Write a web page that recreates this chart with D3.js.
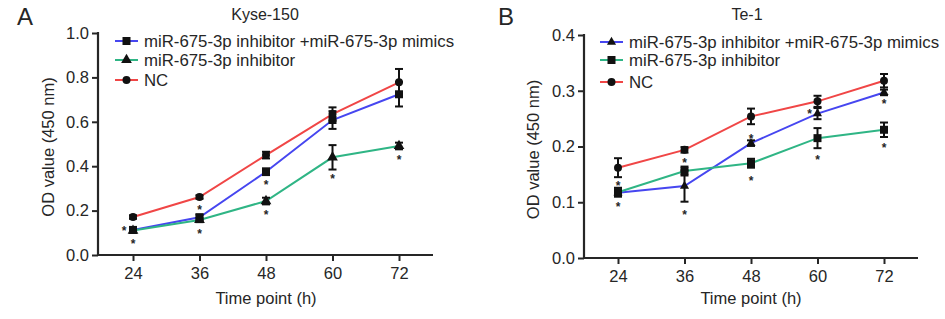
<!DOCTYPE html>
<html><head><meta charset="utf-8">
<script src="https://cdn.jsdelivr.net/npm/d3@7"></script>
<style>
body{margin:0;background:#fff;}
text{font-family:"Liberation Sans",Arial,Helvetica,sans-serif;fill:#262626;}
</style></head>
<body><svg id="c" width="945" height="319"></svg>
<script>
const times = [24, 36, 48, 60, 72];
const seriesNames = ["miR-675-3p inhibitor +miR-675-3p mimics", "miR-675-3p inhibitor", "NC"];
const seriesColors = ["#4646f0", "#2fb585", "#f04646"];

// Panel A: Kyse-150
const aMimics = [0.113, 0.170, 0.375, 0.608, 0.724];
const aMimicsErr = [0.010, 0.012, 0.015, 0.040, 0.055];
const aInhib = [0.110, 0.158, 0.243, 0.440, 0.491];
const aInhibErr = [0.010, 0.010, 0.015, 0.055, 0.015];
const aNC = [0.171, 0.261, 0.450, 0.635, 0.778];
const aNCErr = [0.008, 0.008, 0.015, 0.030, 0.060];
const aYTicks = [0.0, 0.2, 0.4, 0.6, 0.8, 1.0];
const aStars = [[24, 0.12, -9], [24, 0.063, 0], [36, 0.218, 0], [36, 0.109, 0], [48, 0.33, 0], [48, 0.195, 0], [60, 0.356, 0], [72, 0.443, 0]];

// Panel B: Te-1
const bMimics = [0.117, 0.129, 0.206, 0.259, 0.297];
const bMimicsErr = [0.006, 0.028, 0.005, 0.010, 0.005];
const bInhib = [0.118, 0.156, 0.170, 0.215, 0.230];
const bInhibErr = [0.008, 0.008, 0.008, 0.018, 0.013];
const bNC = [0.162, 0.194, 0.254, 0.281, 0.318];
const bNCErr = [0.017, 0.005, 0.014, 0.010, 0.012];
const bYTicks = [0.0, 0.1, 0.2, 0.3, 0.4];
const bStars = [[24, 0.134, 0], [24, 0.097, 0], [36, 0.176, 0], [36, 0.083, 0], [48, 0.219, 0], [48, 0.144, 0], [60, 0.264, -8], [60, 0.182, 0], [72, 0.281, 0], [72, 0.202, 0]];

const svg = d3.select("#c");

function drawPanel(cfg) {
  const g = svg.append("g");
  const x = d3.scaleLinear().domain([24, 72]).range(cfg.xr);
  const y = d3.scaleLinear().domain([0, cfg.ymax]).range([cfg.y0, cfg.y1]);

  // panel letter and title
  g.append("text").attr("x", cfg.letterX).attr("y", 25).attr("font-size", 24).text(cfg.letter);
  g.append("text").attr("x", cfg.titleX).attr("y", 20).attr("font-size", 16).attr("text-anchor", "middle").text(cfg.title);

  // y axis
  const ya = g.append("g").attr("transform", `translate(${cfg.left},0)`)
    .call(d3.axisLeft(y).tickValues(cfg.yTicks).tickFormat(d3.format(".1f")).tickSize(6).tickSizeOuter(0));
  ya.select(".domain").remove();
  ya.selectAll(".tick line").attr("stroke", "#262626").attr("stroke-width", 2);
  ya.selectAll(".tick text").attr("font-size", 16.5).attr("x", -9).attr("fill", "#262626").attr("font-family", null);
  g.append("line").attr("x1", cfg.left).attr("x2", cfg.left).attr("y1", cfg.y1 - 1).attr("y2", cfg.y0 + 1)
    .attr("stroke", "#262626").attr("stroke-width", 2.2);

  // x axis
  const xa = g.append("g").attr("transform", `translate(0,${cfg.y0})`)
    .call(d3.axisBottom(x).tickValues(times).tickSize(6).tickSizeOuter(0));
  xa.select(".domain").remove();
  xa.selectAll(".tick line").attr("stroke", "#262626").attr("stroke-width", 2);
  xa.selectAll(".tick text").attr("font-size", 16.5).attr("y", 12).attr("fill", "#262626").attr("font-family", null);
  g.append("line").attr("x1", cfg.left - 1).attr("x2", cfg.right).attr("y1", cfg.y0).attr("y2", cfg.y0)
    .attr("stroke", "#262626").attr("stroke-width", 2.2);

  // axis titles
  g.append("text").attr("x", (cfg.xr[0] + cfg.xr[1]) / 2).attr("y", 304).attr("font-size", 16.5)
    .attr("text-anchor", "middle").text("Time point (h)");
  g.append("text").attr("transform", `translate(${cfg.ylabX},${(cfg.y0 + cfg.y1) / 2 + 3}) rotate(-90)`)
    .attr("font-size", 16.5).attr("text-anchor", "middle").text("OD value (450 nm)");

  const line = d3.line().x((d, i) => x(times[i])).y(d => y(d));
  const order = [0, 1, 2];
  // lines
  order.forEach(s => {
    g.append("path").datum(cfg.vals[s]).attr("d", line).attr("fill", "none")
      .attr("stroke", seriesColors[s]).attr("stroke-width", 2);
  });
  // error bars + markers
  order.forEach(s => {
    const eg = g.append("g");
    cfg.vals[s].forEach((v, i) => {
      const e = cfg.errs[s][i], cx = x(times[i]);
      eg.append("line").attr("x1", cx).attr("x2", cx).attr("y1", y(v + e)).attr("y2", y(v - e))
        .attr("stroke", "#111").attr("stroke-width", 2);
      [v + e, v - e].forEach(w => eg.append("line").attr("x1", cx - 4).attr("x2", cx + 4)
        .attr("y1", y(w)).attr("y2", y(w)).attr("stroke", "#111").attr("stroke-width", 2));
      eg.append("path").attr("d", d3.symbol().type(cfg.syms[s]).size(cfg.symSize[s])())
        .attr("transform", `translate(${cx},${y(v)})`).attr("fill", "#111");
    });
  });
  // asterisks
  cfg.stars.forEach(st => {
    g.append("text").attr("x", x(st[0]) + st[2]).attr("y", y(st[1]) + 7).attr("font-size", 12)
      .attr("text-anchor", "middle").attr("font-weight", "bold").text("*");
  });
  // legend
  cfg.legRows.forEach((ry, s) => {
    g.append("line").attr("x1", cfg.legX).attr("x2", cfg.legX + 23).attr("y1", ry).attr("y2", ry)
      .attr("stroke", seriesColors[s]).attr("stroke-width", 2);
    g.append("path").attr("d", d3.symbol().type(cfg.syms[s]).size(cfg.symSize[s])())
      .attr("transform", `translate(${cfg.legX + 11.5},${ry})`).attr("fill", "#111");
    g.append("text").attr("x", cfg.legX + 29).attr("y", ry + 6).attr("font-size", 16.8).text(seriesNames[s]);
  });
}

drawPanel({
  letter: "A", letterX: 17, title: "Kyse-150", titleX: 265,
  left: 98, right: 433, xr: [133, 399], y0: 255, y1: 33, ymax: 1.0, yTicks: aYTicks, ylabX: 54,
  vals: [aMimics, aInhib, aNC], errs: [aMimicsErr, aInhibErr, aNCErr],
  syms: [d3.symbolSquare, d3.symbolTriangle, d3.symbolCircle], symSize: [64, 50, 50],
  stars: aStars, legX: 115, legRows: [41, 60, 80]
});
drawPanel({
  letter: "B", letterX: 498, title: "Te-1", titleX: 747,
  left: 584, right: 918, xr: [618, 884], y0: 258, y1: 35, ymax: 0.4, yTicks: bYTicks, ylabX: 539,
  vals: [bMimics, bInhib, bNC], errs: [bMimicsErr, bInhibErr, bNCErr],
  syms: [d3.symbolTriangle, d3.symbolSquare, d3.symbolCircle], symSize: [36, 64, 50],
  stars: bStars, legX: 600, legRows: [42, 60, 82]
});
</script></body></html>
